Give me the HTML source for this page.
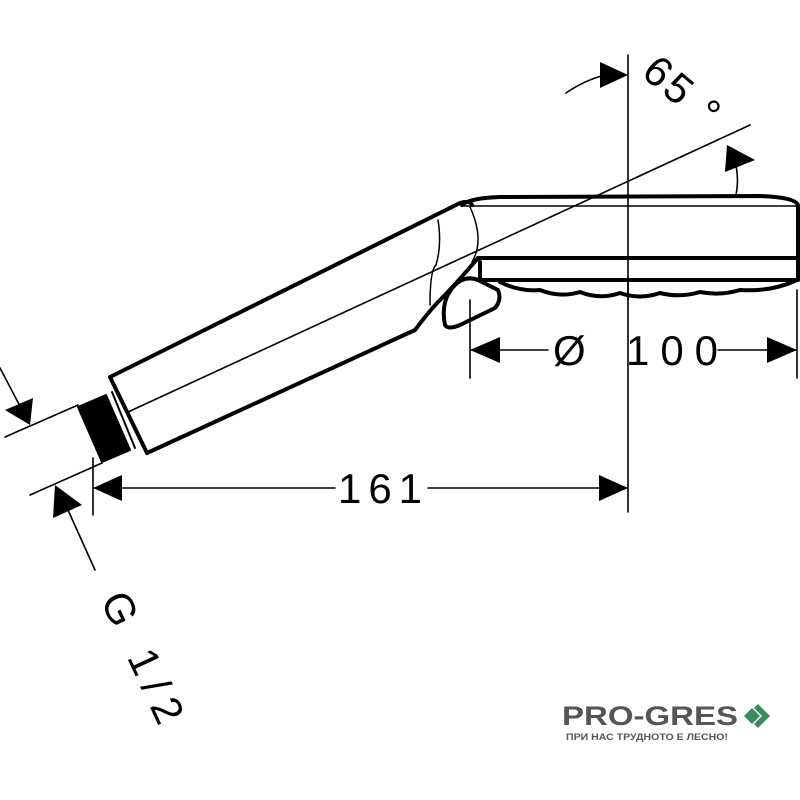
<!DOCTYPE html>
<html><head><style>
html,body{margin:0;padding:0;background:#fff;width:800px;height:800px;overflow:hidden}
</style></head><body>
<svg width="800" height="800" viewBox="0 0 800 800" xmlns="http://www.w3.org/2000/svg" font-family="Liberation Sans, sans-serif">
<g fill="none" stroke="#000" stroke-linecap="round" stroke-linejoin="round">
<!-- vertical reference -->
<line x1="628" y1="55" x2="628" y2="512" stroke-width="1.6"/>
<!-- head -->
<path d="M462,205 Q470,198 500,197 L760,196 Q795,197 798,205 L798,280 L480,280 L480,262" stroke-width="4" fill="#fff"/>
<line x1="462" y1="206" x2="798" y2="206" stroke-width="1.5"/>
<line x1="478" y1="258" x2="798" y2="258" stroke-width="4"/>
<path d="M500,282 Q520,292 540,290 Q560,298 580,292 Q600,300 620,293 Q640,300 660,293 Q680,298 700,292 Q720,296 740,290 Q770,292 795,281" stroke-width="4"/>
<line x1="628" y1="196" x2="628" y2="300" stroke-width="1.6"/>
<!-- handle -->
<path d="M110,377 L460,203 Q470,200 472,205" stroke-width="4"/>
<path d="M147,453 L110,377" stroke-width="4"/>
<path d="M147,453 L415,330 Q430,310 440,300 Q455,285 478,258" stroke-width="4"/>
<path d="M438,220 Q442,245 436,265 Q430,270 430,305" stroke-width="1.5"/>
<path d="M470,207 Q485,240 472,262" stroke-width="1.5"/>
<!-- centerline -->
<line x1="128" y1="412" x2="750" y2="125" stroke-width="1.6"/>
<path d="M445,325 Q440,300 455,285 Q465,275 478,280 L498,290 Q502,300 495,308 L460,325 Q448,330 445,325 Z" stroke-width="4" fill="#fff"/>
<line x1="470" y1="300" x2="470" y2="378" stroke-width="1.6"/>
<line x1="797" y1="290" x2="797" y2="378" stroke-width="1.6"/>
<!-- thread -->
<polygon points="78,407 106,395 130,450 102,462" fill="#000" stroke="#000" stroke-width="2"/>
<line x1="112" y1="392" x2="135" y2="448" stroke-width="2"/>
<!-- dim 100 -->
<line x1="470" y1="350" x2="548" y2="350" stroke-width="1.6"/>
<line x1="718" y1="350" x2="797" y2="350" stroke-width="1.6"/>
<!-- dim 161 -->
<line x1="93" y1="458" x2="93" y2="515" stroke-width="1.6"/>
<line x1="93" y1="488" x2="335" y2="488" stroke-width="1.6"/>
<line x1="428" y1="488" x2="628" y2="488" stroke-width="1.6"/>
<!-- G1/2 extension lines -->
<line x1="5" y1="437" x2="78" y2="405" stroke-width="1.6"/>
<line x1="30" y1="495" x2="102" y2="463" stroke-width="1.6"/>
<line x1="0" y1="368" x2="22" y2="410" stroke-width="1.6"/>
<line x1="95" y1="570" x2="68" y2="510" stroke-width="1.6"/>
<!-- angle arcs -->
<path d="M566,93 Q585,80 605,75" stroke-width="1.6"/>
<path d="M736,195 Q740,175 733,155" stroke-width="1.6"/>
</g>
<g fill="#000">
<polygon points="470,350 500,337 500,363"/>
<polygon points="797,350 767,337 767,363"/>
<polygon points="93,488 122,475 122,501"/>
<polygon points="628,488 599,475 599,501"/>
<polygon points="628,75 600,62 600,88"/>
<polygon points="727,145 755,160 725,172"/>
<polygon points="30,425 5,410 33,398"/>
<polygon points="55,485 53,518 82,505"/>
</g>
<g font-size="42" fill="#000">
<text x="553" y="365">Ø</text>
<text x="626" y="365" textLength="92" lengthAdjust="spacing">100</text>
<text x="338" y="503" textLength="84" lengthAdjust="spacing">161</text>
<text x="640" y="75" transform="rotate(40 640 75)" textLength="85" lengthAdjust="spacing">65 °</text>
<text x="0" y="0" transform="translate(100 600) rotate(65)" textLength="140" lengthAdjust="spacing">G 1/2</text>
</g>
<text x="562" y="725" font-size="27" font-weight="bold" fill="#555" textLength="176" lengthAdjust="spacingAndGlyphs">PRO-GRES</text>
<text x="566" y="740" font-size="9" font-weight="bold" fill="#555" textLength="162" lengthAdjust="spacingAndGlyphs">ПРИ НАС ТРУДНОТО Е ЛЕСНО!</text>
<polygon points="744,716 752,708 760,716 752,724" fill="#3a8a5a"/>
<polygon points="758,704 770,716 758,728 754,724 762,716 754,708" fill="#3a8a5a"/>
</svg>
</body></html>
